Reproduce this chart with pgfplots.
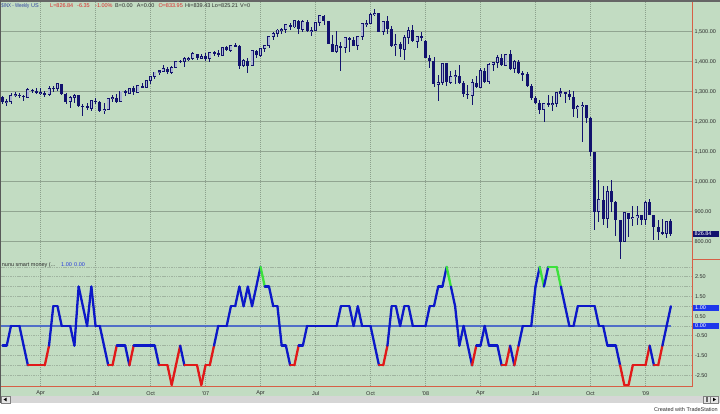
\documentclass[border=0pt]{standalone}
\usepackage{fontspec}
\setmainfont{Liberation Sans}
\usepackage{pgfplots}
\usepackage{pgfplotstable}
\pgfplotsset{compat=1.18}
\definecolor{bg}{RGB}{194,220,194}
\definecolor{gridh}{RGB}{145,165,145}
\definecolor{gridv}{RGB}{140,160,140}
\definecolor{gridl}{RGB}{160,180,160}
\definecolor{navy}{RGB}{18,18,110}
\definecolor{hollow}{RGB}{172,182,210}
\definecolor{indred}{RGB}{225,25,25}
\definecolor{indblue}{RGB}{12,24,200}
\definecolor{indgreen}{RGB}{60,225,60}
\definecolor{zeroc}{RGB}{80,110,200}
\definecolor{axred}{RGB}{215,95,70}
\definecolor{txt}{RGB}{45,45,45}
\definecolor{hdrblue}{RGB}{50,70,160}
\definecolor{hdrred}{RGB}{220,40,40}
\definecolor{valblue}{RGB}{40,60,220}
\definecolor{boxblue}{RGB}{30,55,235}
\definecolor{scroll}{RGB}{214,214,214}
\newcommand\sm{\fontsize{5.5}{6}\selectfont}

\pgfplotstableread{
i O H L C
0 1283.0 1285.9 1257.6 1264.0
1 1264.0 1275.0 1253.6 1267.0
2 1267.0 1294.9 1260.0 1287.2
3 1287.2 1297.6 1282.0 1289.4
4 1289.4 1297.3 1278.7 1287.2
5 1287.2 1288.1 1268.4 1281.4
6 1281.4 1310.9 1279.0 1307.3
7 1307.3 1310.1 1295.0 1303.0
8 1303.0 1310.9 1291.0 1294.8
9 1294.8 1310.9 1288.5 1295.5
10 1295.5 1300.8 1280.7 1289.1
11 1289.1 1318.2 1286.0 1311.3
12 1311.3 1318.2 1300.3 1310.6
13 1310.6 1326.7 1303.5 1325.8
14 1325.8 1326.7 1287.5 1291.2
15 1291.2 1294.8 1259.0 1267.0
16 1267.0 1285.0 1245.3 1280.2
17 1280.2 1290.7 1262.1 1288.2
18 1288.2 1288.2 1248.6 1252.3
19 1252.3 1257.9 1219.3 1251.5
20 1251.5 1261.1 1238.0 1244.5
21 1244.5 1272.8 1237.3 1270.2
22 1270.2 1280.4 1259.5 1265.5
23 1265.5 1270.0 1233.0 1236.2
24 1236.2 1261.0 1224.5 1240.3
25 1240.3 1280.0 1238.0 1278.6
26 1278.6 1290.5 1265.7 1279.4
27 1279.4 1292.2 1261.8 1266.7
28 1266.7 1302.3 1266.7 1302.3
29 1302.3 1305.0 1286.0 1295.1
30 1295.1 1311.0 1293.0 1311.0
31 1311.0 1318.0 1290.5 1298.9
32 1298.9 1320.0 1296.0 1319.7
33 1319.7 1329.0 1311.0 1314.8
34 1314.8 1339.0 1314.0 1335.9
35 1335.9 1350.0 1327.0 1349.6
36 1349.6 1366.0 1343.0 1365.6
37 1365.6 1372.0 1356.0 1368.6
38 1368.6 1389.0 1365.0 1377.3
39 1377.3 1381.0 1360.0 1364.3
40 1364.3 1384.0 1360.0 1380.9
41 1380.9 1403.0 1378.0 1401.2
42 1401.2 1407.0 1395.0 1401.0
43 1401.0 1416.0 1383.0 1409.1
44 1409.1 1416.0 1401.0 1409.8
45 1409.8 1431.0 1405.0 1427.1
46 1427.1 1427.1 1404.0 1410.8
47 1410.8 1427.0 1408.0 1418.3
48 1418.3 1429.4 1403.9 1409.7
49 1409.7 1431.6 1398.4 1430.7
50 1430.7 1435.3 1420.0 1430.5
51 1430.5 1440.1 1416.0 1422.2
52 1422.2 1449.0 1420.0 1448.4
53 1448.4 1453.0 1434.0 1438.1
54 1438.1 1457.0 1432.0 1455.5
55 1455.5 1461.6 1448.0 1451.2
56 1451.2 1456.9 1374.1 1387.2
57 1387.2 1410.0 1381.0 1402.8
58 1402.8 1412.8 1363.9 1387.0
59 1387.0 1438.0 1386.0 1436.1
60 1436.1 1437.8 1412.0 1420.9
61 1420.9 1445.0 1415.0 1443.8
62 1443.8 1453.0 1431.0 1452.9
63 1452.9 1485.0 1446.0 1484.4
64 1484.4 1498.0 1473.0 1494.1
65 1494.1 1510.3 1482.0 1505.6
66 1505.6 1513.8 1491.0 1505.9
67 1505.9 1523.0 1497.0 1522.8
68 1522.8 1529.9 1505.0 1515.7
69 1515.7 1540.6 1512.0 1536.3
70 1536.3 1540.0 1490.7 1507.7
71 1507.7 1538.7 1500.0 1532.9
72 1532.9 1538.0 1500.0 1502.6
73 1502.6 1515.0 1484.0 1503.4
74 1503.4 1532.0 1503.0 1530.4
75 1530.4 1555.9 1518.0 1552.5
76 1552.5 1555.0 1523.0 1534.1
77 1534.1 1534.1 1458.5 1459.0
78 1459.0 1488.3 1432.0 1433.1
79 1433.1 1503.9 1428.0 1453.6
80 1453.6 1466.3 1370.6 1445.9
81 1445.9 1481.0 1430.0 1479.4
82 1479.4 1481.0 1432.0 1474.0
83 1474.0 1481.5 1453.0 1453.6
84 1453.6 1487.0 1439.0 1484.3
85 1484.3 1530.0 1471.0 1525.8
86 1525.8 1538.7 1517.0 1526.8
87 1526.8 1561.0 1526.0 1557.6
88 1557.6 1576.1 1553.0 1561.8
89 1561.8 1564.0 1500.6 1500.6
90 1500.6 1535.5 1489.0 1535.3
91 1535.3 1552.8 1492.0 1509.7
92 1509.7 1520.0 1450.0 1453.7
93 1453.7 1492.0 1420.0 1458.7
94 1458.7 1467.0 1416.0 1440.7
95 1440.7 1488.0 1406.0 1481.1
96 1481.1 1515.0 1460.0 1504.7
97 1504.7 1523.0 1467.0 1468.0
98 1468.0 1485.0 1445.0 1484.5
99 1484.5 1499.0 1468.0 1478.5
100 1468.0 1472.0 1411.0 1411.6
101 1411.6 1421.0 1378.0 1401.0
102 1401.0 1417.0 1317.0 1325.2
103 1325.2 1355.0 1270.1 1330.6
104 1330.6 1396.0 1322.0 1395.4
105 1395.4 1396.0 1320.0 1331.3
106 1331.3 1368.0 1326.0 1350.0
107 1350.0 1371.0 1325.0 1353.1
108 1353.1 1389.0 1326.0 1330.6
109 1330.6 1335.0 1283.0 1293.4
110 1293.4 1321.0 1274.0 1288.1
111 1288.1 1341.0 1256.9 1329.5
112 1329.5 1352.0 1312.0 1315.2
113 1315.2 1380.0 1312.0 1370.4
114 1370.4 1380.0 1328.0 1332.8
115 1332.8 1395.0 1324.0 1390.3
116 1390.3 1399.0 1370.0 1397.8
117 1397.8 1422.0 1379.0 1413.9
118 1413.9 1424.0 1384.0 1388.3
119 1388.3 1426.0 1386.0 1425.4
120 1425.4 1440.2 1373.0 1375.9
121 1375.9 1406.0 1362.0 1400.4
122 1400.4 1404.0 1359.0 1360.7
123 1360.7 1370.0 1335.0 1360.0
124 1360.0 1366.0 1317.0 1317.9
125 1317.9 1326.0 1272.0 1278.4
126 1278.4 1285.0 1260.0 1262.9
127 1262.9 1273.0 1225.0 1239.5
128 1239.5 1262.0 1200.4 1260.7
129 1260.7 1290.0 1250.0 1257.8
130 1257.8 1284.0 1235.0 1260.3
131 1260.3 1297.0 1248.0 1296.3
132 1296.3 1313.0 1282.0 1298.2
133 1298.2 1300.0 1262.0 1292.2
134 1292.2 1304.0 1271.0 1282.8
135 1282.8 1303.0 1217.0 1242.3
136 1242.3 1255.0 1212.0 1251.7
137 1251.7 1265.0 1133.5 1255.1
138 1255.1 1256.0 1197.0 1213.3
139 1213.3 1215.0 1084.0 1099.2
140 1097.6 1097.6 839.8 899.2
141 899.2 1006.0 865.0 940.6
142 940.6 985.0 857.0 876.8
143 876.8 984.0 845.0 968.8
144 968.8 1007.0 899.0 931.0
145 931.0 937.0 818.7 873.3
146 873.3 873.3 741.0 800.0
147 800.0 896.2 799.0 896.2
148 896.2 896.2 815.7 876.1
149 876.1 918.6 851.3 879.7
150 879.7 918.9 857.0 887.9
151 887.9 888.0 857.1 872.8
152 872.8 934.7 857.3 931.8
153 931.8 943.9 888.3 890.4
154 890.4 890.4 804.3 850.1
155 850.1 871.8 805.2 832.0
156 832.0 877.0 821.7 825.9
157 825.9 870.6 812.3 868.6
158 868.6 876.0 818.4 826.8
}\price

\pgfplotstableread{
i v c
0 -1 1
1 -1 1
2 0 1
3 0 1
4 0 1
5 -1 1
6 -2 0
7 -2 0
8 -2 0
9 -2 0
10 -2 0
11 -1 1
12 1 1
13 1 1
14 0 1
15 0 1
16 0 1
17 -1 1
18 2 1
19 1 1
20 0 1
21 2 1
22 0 1
23 0 1
24 -1 1
25 -2 0
26 -2 0
27 -1 1
28 -1 1
29 -1 1
30 -2 0
31 -1 1
32 -1 1
33 -1 1
34 -1 1
35 -1 1
36 -1 1
37 -2 0
38 -2 0
39 -2 0
40 -3 0
41 -2 0
42 -1 1
43 -2 0
44 -2 0
45 -2 0
46 -2 0
47 -3 0
48 -2 0
49 -2 0
50 -1 1
51 0 1
52 0 1
53 0 1
54 1 1
55 1 1
56 2 1
57 1 1
58 2 1
59 1 1
60 2 1
61 3 2
62 2 1
63 2 1
64 1 1
65 1 1
66 -1 1
67 -1 1
68 -2 0
69 -2 0
70 -1 1
71 -1 1
72 0 1
73 0 1
74 0 1
75 0 1
76 0 1
77 0 1
78 0 1
79 0 1
80 1 1
81 1 1
82 1 1
83 0 1
84 1 1
85 0 1
86 0 1
87 0 1
88 -1 1
89 -2 0
90 -2 0
91 -1 1
92 1 1
93 1 1
94 0 1
95 1 1
96 1 1
97 0 1
98 0 1
99 0 1
100 0 1
101 1 1
102 1 1
103 2 1
104 2 1
105 3 2
106 2 1
107 1 1
108 -1 1
109 0 1
110 -1 1
111 -2 0
112 -1 1
113 -1 1
114 0 1
115 -1 1
116 -1 1
117 -1 1
118 -2 0
119 -2 0
120 -1 1
121 -2 0
122 -1 1
123 0 1
124 0 1
125 0 1
126 2 1
127 3 2
128 2 1
129 3 2
130 3 2
131 3 2
132 2 1
133 1 1
134 0 1
135 0 1
136 1 1
137 1 1
138 1 1
139 1 1
140 1 1
141 0 1
142 0 1
143 -1 1
144 -1 1
145 -1 1
146 -2 0
147 -3 0
148 -3 0
149 -2 0
150 -2 0
151 -2 0
152 -2 0
153 -1 1
154 -2 0
155 -2 0
156 -1 1
157 0 1
158 1 1
}\ind

\begin{document}
\begin{tikzpicture}
\path[use as bounding box] (0,0) rectangle (720pt,413pt);
\fill[white] (0,0) rectangle (720pt,413pt);
\fill[bg] (0,17pt) rectangle (720pt,413pt);
\fill[scroll] (0,10pt) rectangle (720pt,17pt);

% ---------- price panel ----------
\begin{axis}[at={(1pt,154pt)}, anchor=south west, scale only axis,
  width=691pt, height=257pt,
  xmin=-0.355, xmax=163, ymin=742.3, ymax=1599,
  axis line style={draw=none}, major tick length=0pt,
  xtick={9,22,...,152}, xticklabels={},
  ytick={800,900,...,1500}, yticklabel pos=right,
  yticklabels={800.00,900.00,{1,000.00},{1,100.00},{1,200.00},{1,300.00},{1,400.00},{1,500.00}},
  yticklabel style={font=\sm, text=txt, anchor=west, inner sep=0pt, xshift=2.3pt},
  xmajorgrids, ymajorgrids,
  major x grid style={gridv, line width=0.8pt, dash pattern=on 1pt off 1pt},
  major y grid style={gridh, line width=0.9pt},
  clip mode=individual]
% wicks
\addplot[draw=none, mark=none, forget plot,
  error bars/.cd, y dir=both, y explicit, error mark=none,
  error bar style={draw=navy, line width=0.9pt}]
  table[x=i, y expr={(\thisrow{H}+\thisrow{L})/2}, y error expr={(\thisrow{H}-\thisrow{L})/2}] {\price};
% down bodies
\addplot[draw=none, mark=none, forget plot,
  restrict expr to domain={\thisrow{C}-\thisrow{O}}{-100000:0},
  error bars/.cd, y dir=both, y explicit, error mark=none,
  error bar style={draw=navy, line width=3pt}]
  table[x=i, y expr={(\thisrow{O}+\thisrow{C})/2}, y error expr={max(abs(\thisrow{C}-\thisrow{O})/2,2)}] {\price};
% up bodies outline
\addplot[draw=none, mark=none, forget plot,
  restrict expr to domain={\thisrow{C}-\thisrow{O}}{0:100000},
  error bars/.cd, y dir=both, y explicit, error mark=none,
  error bar style={draw=navy, line width=3pt}]
  table[x=i, y expr={(\thisrow{O}+\thisrow{C})/2}, y error expr={max(abs(\thisrow{C}-\thisrow{O})/2,2)+1.6}] {\price};
% up bodies fill
\addplot[draw=none, mark=none, forget plot,
  restrict expr to domain={\thisrow{C}-\thisrow{O}}{0:100000},
  error bars/.cd, y dir=both, y explicit, error mark=none,
  error bar style={draw=hollow, line width=1.6pt}]
  table[x=i, y expr={(\thisrow{O}+\thisrow{C})/2}, y error expr={max(abs(\thisrow{C}-\thisrow{O})/2-1.6,0.05)}] {\price};
\end{axis}

% ---------- indicator panel ----------
\begin{axis}[at={(1pt,27pt)}, anchor=south west, scale only axis,
  width=691pt, height=126pt,
  xmin=-0.355, xmax=163, ymin=-3.05, ymax=3.35,
  axis line style={draw=none}, major tick length=0pt, minor tick length=0pt,
  xtick={9,22,...,152},
  xticklabels={Apr,Jul,Oct,\textquotesingle07,Apr,Jul,Oct,\textquotesingle08,Apr,Jul,Oct,\textquotesingle09},
  xticklabel style={font=\sm, text=txt, anchor=north, inner sep=0pt, yshift=-5pt},
  ytick={-2.5,-1.5,-0.5,0.5,1.5,2.5},
  yticklabels={-2.50,-1.50,-0.50,0.50,1.50,2.50},
  minor ytick={-2,-1,0,1,2,3},
  yticklabel pos=right,
  yticklabel style={font=\sm, text=txt, anchor=west, inner sep=0pt, xshift=2.8pt},
  xmajorgrids, ymajorgrids, yminorgrids,
  major x grid style={gridv, line width=0.8pt, dash pattern=on 1pt off 1pt},
  major y grid style={gridl, line width=0.7pt, dash pattern=on 1.5pt off 0.8pt},
  minor y grid style={gridl, line width=0.7pt, dash pattern=on 1.5pt off 0.8pt},
  colormap={ind}{rgb255=(225,25,25) rgb255=(12,24,200) rgb255=(60,225,60)},
  point meta min=0, point meta max=2]
\addplot[zeroc, line width=1.1pt, forget plot] coordinates {(-0.355,0) (158,0)};
\addplot[mesh, shader=flat corner, line width=2.3pt, line cap=round, line join=round,
  point meta=\thisrow{c}, forget plot] table[x=i, y=v] {\ind};
\end{axis}

% ---------- frame elements ----------
\draw[axred, line width=1pt] (0.5pt,27pt) -- (692.5pt,27pt);
\draw[axred, line width=1pt] (692.5pt,27pt) -- (692.5pt,411pt);
\draw[axred, line width=1pt] (692.5pt,153.5pt) -- (720pt,153.5pt);
\draw[black!60, line width=1.6pt] (0,412.2pt) -- (720pt,412.2pt);
\draw[black!65, line width=1.2pt] (0.6pt,10pt) -- (0.6pt,413pt);

% value boxes on the right axis
\fill[navy] (693pt,176.5pt) rectangle (719pt,182.5pt);
\node[anchor=west, inner sep=0pt, font=\sm, text=white] at (694.5pt,179.5pt) {826.84};
\fill[boxblue] (693pt,102.5pt) rectangle (719pt,108.5pt);
\node[anchor=west, inner sep=0pt, font=\sm, text=white] at (695pt,105.5pt) {1.00};
\fill[boxblue] (693pt,84pt) rectangle (719pt,90pt);
\node[anchor=west, inner sep=0pt, font=\sm, text=white] at (695pt,87pt) {0.00};

% header
\begin{scope}[every node/.style={anchor=base west, inner sep=0pt, font=\sm}]
\node[text=hdrblue, xscale=0.8] at (1.2pt,405.7pt) {\$INX - Weekly};
\node[text=hdrblue] at (31pt,405.7pt) {US};
\node[text=hdrred] at (50pt,405.7pt) {L=826.84};
\node[text=hdrred] at (77pt,405.7pt) {-6.35};
\node[text=hdrred] at (95pt,405.7pt) {-1.00\%};
\node[text=txt] at (115pt,405.7pt) {B=0.00};
\node[text=txt] at (136.7pt,405.7pt) {A=0.00};
\node[text=hdrred] at (158.3pt,405.7pt) {O=833.95};
\node[text=txt] at (185pt,405.7pt) {Hi=839.43};
\node[text=txt] at (211.7pt,405.7pt) {Lo=825.21};
\node[text=txt] at (240pt,405.7pt) {V=0};
% indicator title
\node[text=txt] at (1.7pt,147pt) {nunu smart money (...};
\node[text=valblue] at (61pt,147pt) {1.00};
\node[text=valblue] at (74pt,147pt) {0.00};
% footer
\node[text=txt, anchor=base east] at (718pt,2pt) {Created with TradeStation};
\end{scope}

% scroll buttons
\fill[black!10] (1.2pt,10.3pt) rectangle (10pt,16.7pt);
\draw[black!50, line width=0.4pt] (1.2pt,10.3pt) rectangle (10pt,16.7pt);
\fill[black] (3.6pt,13.5pt) -- (6.6pt,15.4pt) -- (6.6pt,11.6pt) -- cycle;
\fill[black!10] (703pt,10.3pt) rectangle (718.5pt,16.7pt);
\draw[black!50, line width=0.4pt] (703pt,10.3pt) rectangle (710.5pt,16.7pt);
\draw[black!50, line width=0.4pt] (710.5pt,10.3pt) rectangle (718.5pt,16.7pt);
\fill[black!60] (705.5pt,11.3pt) rectangle (706.6pt,15.7pt);
\fill[black!60] (707.3pt,11.3pt) rectangle (708.4pt,15.7pt);
\fill[black] (716pt,13.5pt) -- (713pt,15.4pt) -- (713pt,11.6pt) -- cycle;
\end{tikzpicture}
\end{document}
